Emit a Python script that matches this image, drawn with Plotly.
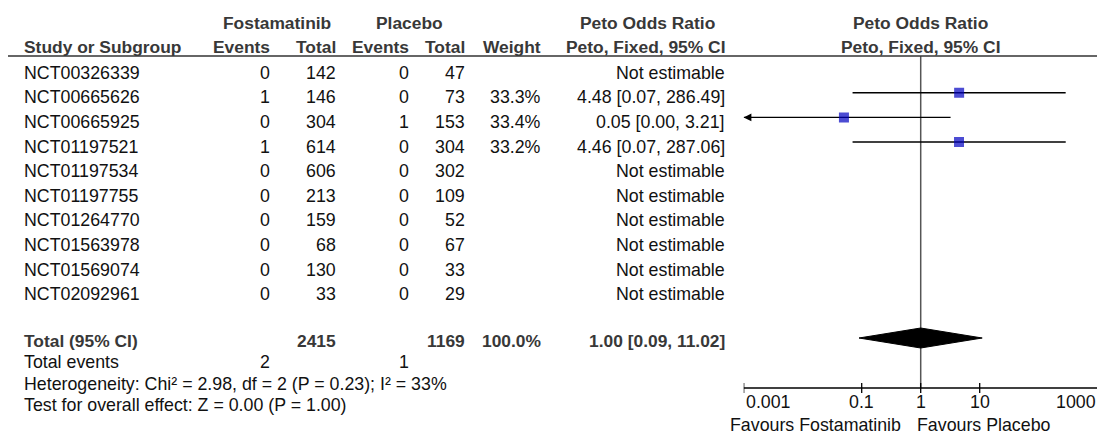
import math
import plotly.graph_objects as go

# ---------------- data ----------------
studies = ["NCT00326339", "NCT00665626", "NCT00665925", "NCT01197521", "NCT01197534",
           "NCT01197755", "NCT01264770", "NCT01563978", "NCT01569074", "NCT02092961"]
fost_events = [0, 1, 0, 1, 0, 0, 0, 0, 0, 0]
fost_total = [142, 146, 304, 614, 606, 213, 159, 68, 130, 33]
plac_events = [0, 0, 1, 0, 0, 0, 0, 0, 0, 0]
plac_total = [47, 73, 153, 304, 302, 109, 52, 67, 33, 29]
weights = [None, 33.3, 33.4, 33.2, None, None, None, None, None, None]
or_est = [None, 4.48, 0.05, 4.46, None, None, None, None, None, None]
ci_low = [None, 0.07, 0.00, 0.07, None, None, None, None, None, None]
ci_high = [None, 286.49, 3.21, 287.06, None, None, None, None, None, None]

sum_fost_total = 2415
sum_plac_total = 1169
sum_weight = 100.0
pooled_or = 1.00
pooled_low = 0.09
pooled_high = 11.02
sum_fost_events = 2
sum_plac_events = 1
heterogeneity_text = "Heterogeneity: Chi² = 2.98, df = 2 (P = 0.23); I² = 33%"
overall_text = "Test for overall effect: Z = 0.00 (P = 1.00)"

axis_ticks = [0.001, 0.1, 1, 10, 1000]
axis_labels = ["0.001", "0.1", "1", "10", "1000"]
favours_left = "Favours Fostamatinib"
favours_right = "Favours Placebo"

# ---------------- layout constants (page pixels) ----------------
W, H = 1105, 437
OFF = 8  # default page body margin: figure origin sits 8px in from the page corner
FONT = "Liberation Sans, Arial, sans-serif"
FS = 17.8
FSB = 17.4
TXT = "#111111"
HDR = "#383838"

ROW0, ROWH = 72.7, 24.6
MARK_SHIFT = -4.5
Y_HDR1, Y_HDR2, Y_LINE = 23, 47, 56
Y_TOTAL, Y_DIAM = 341, 338
Y_EVENTS, Y_HET, Y_TEST = 362, 384, 405
Y_AXIS = 388
Y_TICKLAB = 402
Y_FAV = 425

X_NAME_HDR, X_NAME = 22, 22
X_FE, X_FT, X_PE, X_PT, X_W, X_CI = 272, 338, 411, 467, 543, 727
FOREST_L, FOREST_R = 743.7, 1097.7
AX_MIN, AX_MAX = -3, 3

fig = go.Figure()
ann = []


def txt(x, y, s, anchor="right", bold=False, color=None):
    ann.append(dict(x=x, y=y, xref="x", yref="y", text=("<b>%s</b>" % s) if bold else s,
                    showarrow=False, xanchor=anchor, yanchor="middle",
                    font=dict(family=FONT, size=FSB if bold else FS,
                              color=color or (HDR if bold else TXT))))


# headers
txt((215 + X_FT) / 2, Y_HDR1, "Fostamatinib", "center", True)
txt((351 + X_PT) / 2, Y_HDR1, "Placebo", "center", True)
txt(647, Y_HDR1, "Peto Odds Ratio", "center", True)
txt(X_NAME_HDR, Y_HDR2, "Study or Subgroup", "left", True)
txt(X_FE, Y_HDR2, "Events", "right", True)
txt(X_FT, Y_HDR2, "Total", "right", True)
txt(X_PE, Y_HDR2, "Events", "right", True)
txt(X_PT, Y_HDR2, "Total", "right", True)
txt(X_W, Y_HDR2, "Weight", "right", True)
txt(X_CI, Y_HDR2, "Peto, Fixed, 95% CI", "right", True)

# study rows
for i, name in enumerate(studies):
    y = ROW0 + i * ROWH
    txt(X_NAME, y, name, "left")
    txt(X_FE, y, str(fost_events[i]))
    txt(X_FT, y, str(fost_total[i]))
    txt(X_PE, y, str(plac_events[i]))
    txt(X_PT, y, str(plac_total[i]))
    if weights[i] is not None:
        txt(X_W, y, "%.1f%%" % weights[i])
    if or_est[i] is None:
        txt(X_CI, y, "Not estimable")
    else:
        txt(X_CI, y, "%.2f [%.2f, %.2f]" % (or_est[i], ci_low[i], ci_high[i]))

# totals
txt(X_NAME, Y_TOTAL, "Total (95% CI)", "left", True)
txt(X_FT, Y_TOTAL, str(sum_fost_total), "right", True)
txt(X_PT, Y_TOTAL, str(sum_plac_total), "right", True)
txt(X_W, Y_TOTAL, "%.1f%%" % sum_weight, "right", True)
txt(X_CI, Y_TOTAL, "%.2f [%.2f, %.2f]" % (pooled_or, pooled_low, pooled_high), "right", True)
txt(X_NAME, Y_EVENTS, "Total events", "left")
txt(X_FE, Y_EVENTS, str(sum_fost_events))
txt(X_PE, Y_EVENTS, str(sum_plac_events))
txt(X_NAME, Y_HET, heterogeneity_text, "left")
txt(X_NAME, Y_TEST, overall_text, "left")

# right header
xc1 = FOREST_L + (FOREST_R - FOREST_L) * (0 - AX_MIN) / (AX_MAX - AX_MIN)
txt(xc1, Y_HDR1, "Peto Odds Ratio", "center", True)
txt(xc1, Y_HDR2, "Peto, Fixed, 95% CI", "center", True)
txt(xc1 - 18, Y_FAV, favours_left, "right")
txt(xc1 - 6, Y_FAV, favours_right, "left")

# ---------------- forest marks (x2 log axis) ----------------
amin = 10 ** AX_MIN
lx, ly, sx, sy, ss = [], [], [], [], []
for i in range(len(studies)):
    if or_est[i] is None:
        continue
    y = ROW0 + i * ROWH + MARK_SHIFT
    lo = max(ci_low[i], amin)
    lx += [lo, ci_high[i], None]
    ly += [y, y, None]
    sx.append(or_est[i])
    sy.append(y)
    ss.append(10 * math.sqrt(weights[i] / 33.3))
    if ci_low[i] < amin:
        ann.append(dict(x=AX_MIN, y=y, xref="x2", yref="y", ax=9, ay=0, text="",
                        showarrow=True, arrowhead=2, arrowsize=1.1, arrowwidth=1.4,
                        arrowcolor="#000000", standoff=0))

# null line
fig.add_trace(go.Scatter(x=[1, 1], y=[Y_LINE, Y_AXIS], xaxis="x2", yaxis="y", mode="lines",
                         line=dict(color="#555555", width=1.5), hoverinfo="skip"))
fig.add_trace(go.Scatter(x=lx, y=ly, xaxis="x2", yaxis="y", mode="lines",
                         line=dict(color="#000000", width=1.4), hoverinfo="skip"))
fig.add_trace(go.Scatter(x=sx, y=sy, xaxis="x2", yaxis="y", mode="markers",
                         marker=dict(symbol="square", size=ss, color="#0000c0",
                                     line=dict(width=0)), hoverinfo="skip"))
# diamond
fig.add_trace(go.Scatter(x=[pooled_low, pooled_or, pooled_high, pooled_or, pooled_low],
                         y=[Y_DIAM, Y_DIAM - 10, Y_DIAM, Y_DIAM + 10, Y_DIAM],
                         xaxis="x2", yaxis="y", mode="lines", fill="toself",
                         fillcolor="#000000", line=dict(color="#000000", width=1),
                         hoverinfo="skip"))
# axis line and ticks
tx, ty = [], []
for t in axis_ticks:
    tx += [t, t, None]
    ty += [Y_AXIS - 5, Y_AXIS + 5, None]
fig.add_trace(go.Scatter(x=[axis_ticks[0], axis_ticks[-1]], y=[Y_AXIS, Y_AXIS], xaxis="x2",
                         yaxis="y", mode="lines", line=dict(color="#000000", width=1.3),
                         hoverinfo="skip"))
fig.add_trace(go.Scatter(x=tx, y=ty, xaxis="x2", yaxis="y", mode="lines",
                         line=dict(color="#000000", width=1.3), hoverinfo="skip"))
for k, (t, lab) in enumerate(zip(axis_ticks, axis_labels)):
    anchor = "left" if k == 0 else ("right" if k == len(axis_ticks) - 1 else "center")
    ann.append(dict(x=math.log10(t), y=Y_TICKLAB, xref="x2", yref="y", text=lab,
                    showarrow=False, xanchor=anchor, yanchor="middle",
                    font=dict(family=FONT, size=FS, color=TXT)))

# header underline
shapes = [dict(type="line", xref="x", yref="y", x0=0, x1=W + OFF, y0=Y_LINE, y1=Y_LINE,
               line=dict(color="#333333", width=1.6))]

fig.update_layout(
    width=W, height=H, margin=dict(l=0, r=0, t=0, b=0),
    paper_bgcolor="white", plot_bgcolor="white", showlegend=False,
    xaxis=dict(range=[OFF, W + OFF], domain=[0, 1], visible=False, fixedrange=True),
    xaxis2=dict(type="log", range=[AX_MIN, AX_MAX],
                domain=[(FOREST_L - OFF) / W, (FOREST_R - OFF) / W],
                anchor="y", visible=False, fixedrange=True),
    yaxis=dict(range=[H + OFF, OFF], domain=[0, 1], visible=False, fixedrange=True),
    annotations=ann, shapes=shapes,
)

fig.write_html("out.html")
